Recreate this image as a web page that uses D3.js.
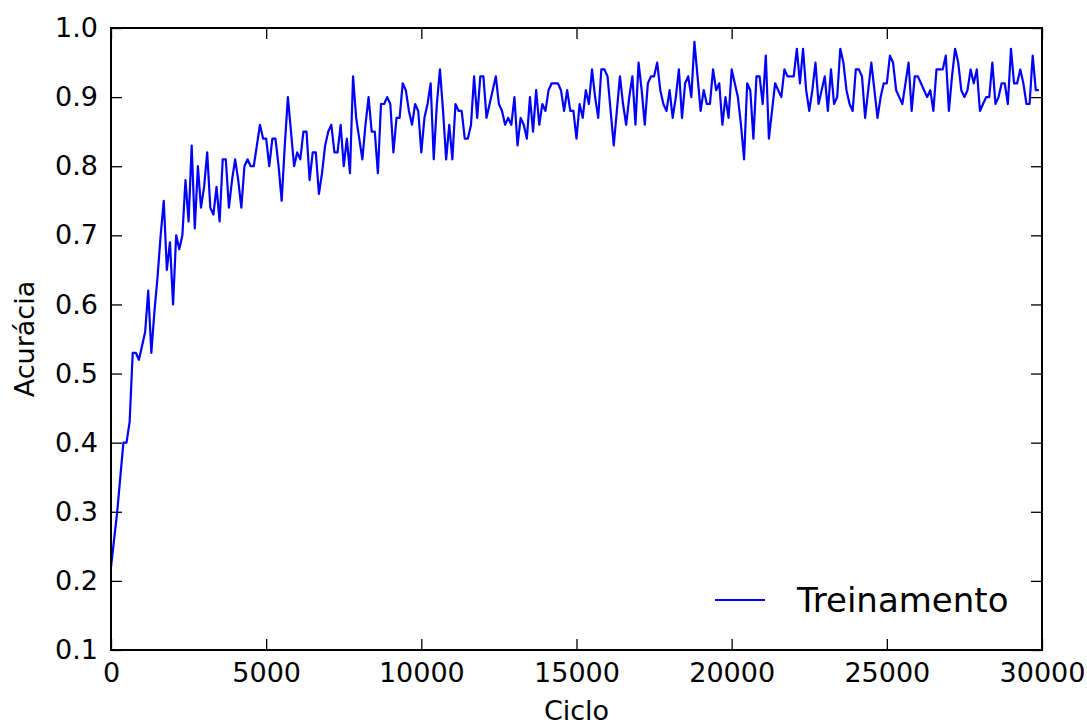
<!DOCTYPE html>
<html>
<head>
<meta charset="utf-8">
<script src="https://cdn.jsdelivr.net/npm/d3@7"></script>
<style>
  html, body { margin: 0; padding: 0; background: #fff; }
  svg { display: block; }
  text { font-family: "DejaVu Sans", sans-serif; fill: #000; }
</style>
</head>
<body>
<svg id="chart" width="1087" height="727"></svg>
<script>
// ---- data ----
const cycleStep = 100;               // one sample every 100 cycles (0 .. 29900)
const accuracy = [
  0.22,0.26,0.30,0.35,0.40,0.40,0.43,0.53,0.53,0.52,
  0.54,0.56,0.62,0.53,0.59,0.64,0.70,0.75,0.65,0.69,
  0.60,0.70,0.68,0.70,0.78,0.72,0.83,0.71,0.80,0.74,
  0.77,0.82,0.74,0.73,0.77,0.72,0.81,0.81,0.74,0.78,
  0.81,0.78,0.74,0.80,0.81,0.80,0.80,0.83,0.86,0.84,
  0.84,0.80,0.84,0.84,0.80,0.75,0.83,0.90,0.85,0.80,
  0.82,0.81,0.85,0.85,0.78,0.82,0.82,0.76,0.79,0.83,
  0.85,0.86,0.82,0.82,0.86,0.80,0.84,0.79,0.93,0.87,
  0.84,0.81,0.86,0.90,0.85,0.85,0.79,0.89,0.89,0.90,
  0.89,0.82,0.87,0.87,0.92,0.91,0.88,0.86,0.89,0.88,
  0.82,0.87,0.89,0.92,0.81,0.89,0.94,0.88,0.81,0.86,
  0.81,0.89,0.88,0.88,0.84,0.84,0.86,0.93,0.87,0.93,
  0.93,0.87,0.89,0.91,0.93,0.89,0.88,0.86,0.87,0.86,
  0.90,0.83,0.87,0.86,0.84,0.90,0.85,0.91,0.86,0.89,
  0.88,0.91,0.92,0.92,0.92,0.91,0.88,0.91,0.88,0.88,
  0.84,0.89,0.87,0.91,0.89,0.94,0.90,0.87,0.94,0.94,
  0.93,0.88,0.83,0.88,0.93,0.89,0.86,0.90,0.93,0.86,
  0.95,0.91,0.86,0.92,0.93,0.93,0.95,0.91,0.89,0.88,
  0.91,0.87,0.90,0.94,0.87,0.92,0.93,0.90,0.98,0.93,
  0.88,0.91,0.89,0.89,0.94,0.91,0.92,0.86,0.90,0.87,
  0.94,0.92,0.90,0.86,0.81,0.92,0.91,0.84,0.93,0.93,
  0.89,0.96,0.84,0.88,0.92,0.91,0.90,0.94,0.93,0.93,
  0.93,0.97,0.92,0.97,0.91,0.88,0.91,0.95,0.89,0.91,
  0.93,0.88,0.94,0.89,0.90,0.97,0.95,0.91,0.89,0.88,
  0.94,0.94,0.93,0.87,0.91,0.95,0.91,0.87,0.90,0.92,
  0.92,0.96,0.95,0.91,0.90,0.89,0.92,0.95,0.88,0.93,
  0.93,0.92,0.91,0.90,0.91,0.88,0.94,0.94,0.94,0.96,
  0.88,0.93,0.97,0.95,0.91,0.90,0.91,0.94,0.92,0.94,
  0.88,0.89,0.90,0.90,0.95,0.89,0.90,0.92,0.92,0.89,
  0.97,0.92,0.92,0.94,0.92,0.89,0.89,0.96,0.91,0.91
];
const xTicks = [0, 5000, 10000, 15000, 20000, 25000, 30000];
const yTicks = [0.1, 0.2, 0.3, 0.4, 0.5, 0.6, 0.7, 0.8, 0.9, 1.0];
const xLabel = "Ciclo";
const yLabel = "Acurácia";
const seriesName = "Treinamento";

// ---- layout ----
const svg = d3.select("#chart");
const plot = { left: 111, right: 1042, top: 28, bottom: 650 };
const fontSize = 27;

const x = d3.scaleLinear().domain([0, 30000]).range([plot.left, plot.right]);
const y = d3.scaleLinear().domain([0.1, 1.0]).range([plot.bottom, plot.top]);

const points = accuracy.map((v, i) => ({ c: i * cycleStep, v }));

// line
const clipId = "plotclip";
svg.append("clipPath").attr("id", clipId).append("rect")
  .attr("x", plot.left).attr("y", plot.top)
  .attr("width", plot.right - plot.left).attr("height", plot.bottom - plot.top);

svg.append("path")
  .datum(points)
  .attr("clip-path", `url(#${clipId})`)
  .attr("fill", "none")
  .attr("stroke", "#0000ff")
  .attr("stroke-width", 2.2)
  .attr("stroke-linejoin", "round")
  .attr("d", d3.line().x(d => x(d.c)).y(d => y(d.v)));

// axes
const tickLen = 11;
function styleAxis(g) {
  g.select(".domain").remove();
  g.selectAll(".tick line").attr("stroke", "#000").attr("stroke-width", 1.3);
  g.selectAll(".tick text").style("font-family", "DejaVu Sans").style("font-size", fontSize + "px").attr("fill", "#000");
}

svg.append("g").attr("transform", `translate(0,${plot.bottom})`)
  .call(d3.axisBottom(x).tickValues(xTicks).tickFormat(d3.format("d"))
    .tickSizeInner(-tickLen).tickSizeOuter(0).tickPadding(13))
  .call(styleAxis);

svg.append("g").attr("transform", `translate(0,${plot.top})`)
  .call(d3.axisTop(x).tickValues(xTicks).tickFormat("")
    .tickSizeInner(-tickLen).tickSizeOuter(0))
  .call(styleAxis);

svg.append("g").attr("transform", `translate(${plot.left},0)`)
  .call(d3.axisLeft(y).tickValues(yTicks).tickFormat(d3.format(".1f"))
    .tickSizeInner(-tickLen).tickSizeOuter(0).tickPadding(13))
  .call(styleAxis);

svg.append("g").attr("transform", `translate(${plot.right},0)`)
  .call(d3.axisRight(y).tickValues(yTicks).tickFormat("")
    .tickSizeInner(-tickLen).tickSizeOuter(0))
  .call(styleAxis);

// spines
svg.append("rect")
  .attr("x", plot.left).attr("y", plot.top)
  .attr("width", plot.right - plot.left).attr("height", plot.bottom - plot.top)
  .attr("fill", "none").attr("stroke", "#000").attr("stroke-width", 2);

// axis labels
svg.append("text")
  .attr("x", (plot.left + plot.right) / 2).attr("y", 720)
  .attr("text-anchor", "middle").style("font-size", fontSize + "px")
  .text(xLabel);

svg.append("text")
  .attr("transform", `translate(34,${(plot.top + plot.bottom) / 2}) rotate(-90)`)
  .attr("text-anchor", "middle").style("font-size", fontSize + "px")
  .text(yLabel);

// legend
const legend = svg.append("g");
legend.append("line")
  .attr("x1", 715).attr("x2", 765).attr("y1", 600).attr("y2", 600)
  .attr("stroke", "#0000ff").attr("stroke-width", 2.2);
legend.append("text")
  .attr("x", 797).attr("y", 600).attr("dy", "0.36em")
  .style("font-size", "34px")
  .text(seriesName);
</script>
</body>
</html>
